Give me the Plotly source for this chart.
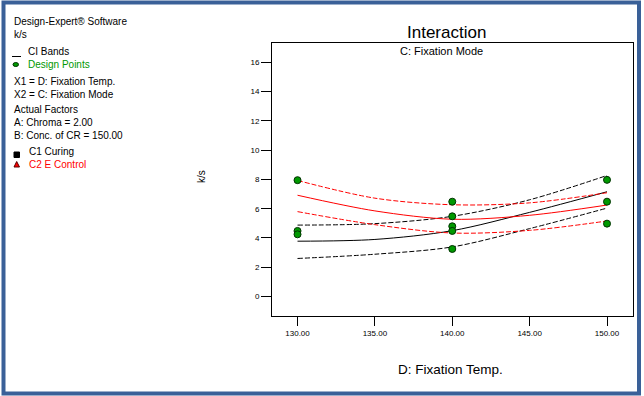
import plotly.graph_objects as go

# ---- data ----
temps = [130, 135, 140, 145, 150]
c1_pred = [3.78, 3.90, 4.50, 5.75, 7.16]
c1_upper = [4.88, 4.98, 5.48, 6.61, 8.27]
c1_lower = [2.60, 2.89, 3.39, 4.64, 6.04]
c2_pred = [6.92, 5.85, 5.28, 5.55, 6.25]
c2_upper = [7.93, 6.72, 6.27, 6.40, 7.09]
c2_lower = [5.80, 4.91, 4.34, 4.52, 5.16]
pts_x = [130, 130, 130, 140, 140, 140, 140, 140, 150, 150, 150]
pts_y = [7.95, 4.48, 4.25, 6.48, 5.48, 4.80, 4.48, 3.25, 7.97, 6.48, 4.98]
x_ticks = [130, 135, 140, 145, 150]
x_tick_labels = ["130.00", "135.00", "140.00", "145.00", "150.00"]
y_ticks = [0, 2, 4, 6, 8, 10, 12, 14, 16]
# text groups: (lines, center y px, left x px)
legend_groups = [
    (["Design-Expert® Software", "k/s"], 28.5, 12),
    (["CI Bands", "<span style='color:#009900'>Design Points</span>"], 58, 26),
    (["X1 = D: Fixation Temp.", "X2 = C: Fixation Mode"], 88, 12),
    (["Actual Factors", "A: Chroma = 2.00", "B: Conc. of CR = 150.00"], 123, 12),
    (["C1 Curing", "<span style='color:#FF0000'>C2 E Control</span>"], 158, 27),
]

W, H = 644, 396
L, R, T, B = 272, 11, 43, 80
PW, PH = W - L - R, H - T - B
FONT = "Liberation Sans, Arial, sans-serif"


def px(x):
    return (x - L) / PW


def py(y):
    return (H - B - y) / PH


fig = go.Figure()

DASH = "5px,2px"
for ys, color, dash in [
    (c1_upper, "black", DASH), (c1_lower, "black", DASH), (c1_pred, "black", "solid"),
    (c2_upper, "#FF0000", DASH), (c2_lower, "#FF0000", DASH), (c2_pred, "#FF0000", "solid"),
]:
    fig.add_trace(go.Scatter(x=temps, y=ys, mode="lines",
                             line=dict(color=color, width=1, dash=dash, shape="spline", smoothing=0.9),
                             hoverinfo="skip", showlegend=False))

fig.add_trace(go.Scatter(x=pts_x, y=pts_y, mode="markers",
                         marker=dict(color="#009900", size=7, line=dict(color="#003300", width=1)),
                         showlegend=False, cliponaxis=False))

fig.update_layout(
    width=W, height=H,
    margin=dict(l=L, r=R, t=T, b=B, pad=0),
    paper_bgcolor="white", plot_bgcolor="white",
    font=dict(family=FONT, color="black"),
    showlegend=False,
    xaxis=dict(range=[128.35, 151.68], tickvals=x_ticks, ticktext=x_tick_labels,
               ticks="outside", ticklen=9, tickwidth=1, tickcolor="black",
               showline=True, linecolor="black", linewidth=1, mirror=True,
               showgrid=False, zeroline=False, tickfont=dict(size=8, family=FONT)),
    yaxis=dict(range=[-1.33, 17.32], tickvals=y_ticks,
               ticks="outside", ticklen=10, tickwidth=1, tickcolor="black",
               showline=True, linecolor="black", linewidth=1, mirror=True,
               showgrid=False, zeroline=False, tickfont=dict(size=8, family=FONT)),
)

ann = [
    dict(text="Interaction", x=px(446.5), y=py(33), font=dict(size=17)),
    dict(text="C: Fixation Mode", x=px(441.5), y=py(51), font=dict(size=11)),
    dict(text="D: Fixation Temp.", x=px(450.5), y=py(369), font=dict(size=13.5)),
    dict(text="k/s", x=px(201), y=py(177), font=dict(size=10), textangle=-90),
]
for a in ann:
    fig.add_annotation(xref="paper", yref="paper", showarrow=False,
                       xanchor="center", yanchor="middle", **a)

for lines, yy, xx in legend_groups:
    fig.add_annotation(xref="paper", yref="paper", showarrow=False, text="<br>".join(lines),
                       x=px(xx), y=py(yy), xanchor="left", yanchor="middle", align="left",
                       font=dict(size=10, color="black", family=FONT))

# legend icons
fig.add_shape(type="line", xref="paper", yref="paper", x0=px(12), x1=px(21), y0=py(56.5), y1=py(56.5),
              line=dict(color="black", width=1))
fig.add_shape(type="circle", xref="paper", yref="paper", x0=px(13), x1=px(18.5), y0=py(66.5), y1=py(62.5),
              fillcolor="#009900", line=dict(color="#003300", width=1))
fig.add_shape(type="rect", xref="paper", yref="paper", x0=px(14), x1=px(19.5), y0=py(157.5), y1=py(152),
              fillcolor="black", line=dict(color="black", width=1))
fig.add_shape(type="path", xref="paper", yref="paper",
              path=f"M {px(16.7)} {py(161.5)} L {px(14)} {py(167)} L {px(19.5)} {py(167)} Z",
              fillcolor="#FF0000", line=dict(color="#550000", width=1))

# outer blue frame
fig.add_shape(type="rect", xref="paper", yref="paper", x0=px(3.5), x1=px(639), y0=py(393.5), y1=py(2.5),
              line=dict(color="#3A6098", width=4), fillcolor="rgba(0,0,0,0)", layer="above")

fig.write_html("out.html", config={"displayModeBar": False},
               post_script="document.body.style.margin='0px';document.body.style.padding='0px';")
